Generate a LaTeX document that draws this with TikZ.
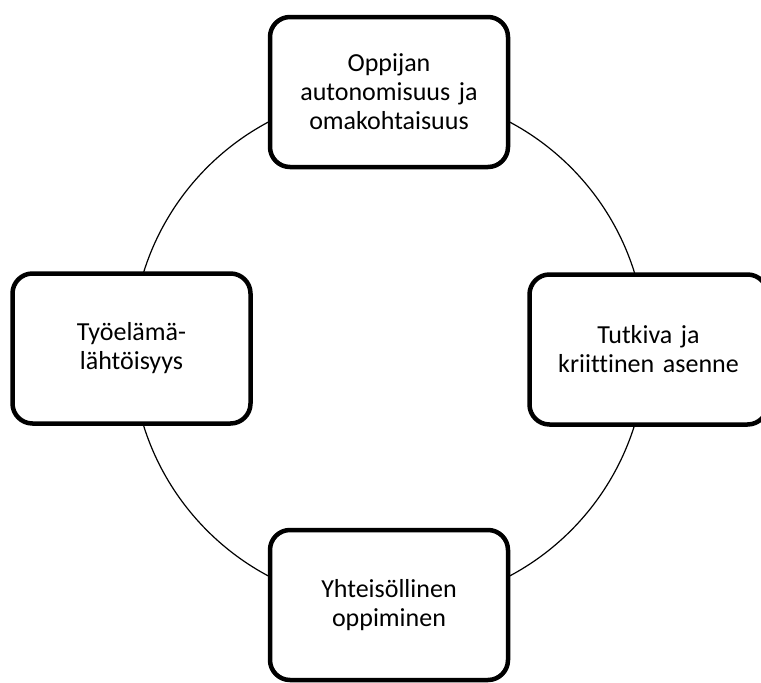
\documentclass[tikz,border=0pt]{standalone}
\usepackage{fontspec}
\setmainfont{Carlito}[Ligatures=NoCommon]
\usepackage{tikz}
\usetikzlibrary{positioning}

\begin{document}
\begin{tikzpicture}[
        x=1pt, y=-1pt,
        box/.style={rectangle, draw, line width=4.5pt, fill=white, rounded corners=20pt, text width=225pt, align=center, minimum width=238pt, minimum height=150pt, font=\fontsize{26}{29}\selectfont},
        ring/.style={line width=1.2pt}
    ]
        \clip (0,0) rectangle (761,683);
        \coordinate (hub) at (389,349);
        \draw [ring] (hub) circle [radius=257];

        \node (b1) [box] at (389,92) {Oppijan\\ autonomisuus ja\\ omakohtaisuus};
        \node (b2) [box] at (648.5,349.5) {Tutkiva ja\\ kriittinen asenne};
        \node (b3) [box] at (389,605) {Yhteisöllinen\\ oppiminen};
        \node (b4) [box] at (131.5,348.5) {Työelämä-\\ lähtöisyys};
    \end{tikzpicture}
\end{document}
